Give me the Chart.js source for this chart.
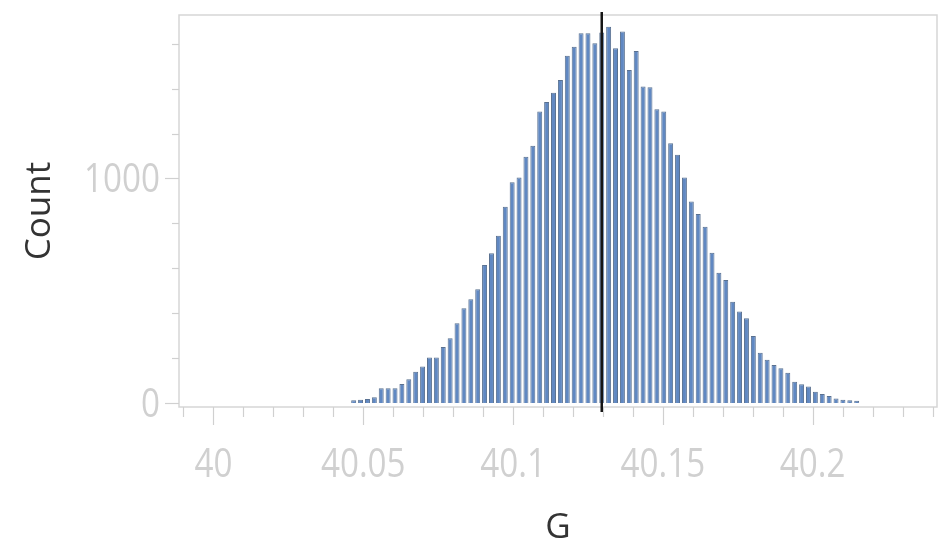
<!DOCTYPE html>
<html>
<head>
<meta charset="utf-8">
<script src="https://cdn.jsdelivr.net/npm/chart.js@4/dist/chart.umd.min.js"></script>
<style>
  html, body { margin: 0; padding: 0; background: #ffffff; }
  #wrap { width: 943px; height: 549px; }
</style>
</head>
<body>
<div id="wrap"><canvas id="chart" width="943" height="549"></canvas></div>
<script>
// Histogram of G: bin centres and counts
const binCenters = [
  40.0468, 40.0491, 40.0514, 40.0537, 40.0560, 40.0583, 40.0606, 40.0629, 40.0652, 40.0675,
  40.0698, 40.0721, 40.0744, 40.0767, 40.0790, 40.0813, 40.0836, 40.0859, 40.0882, 40.0905,
  40.0928, 40.0951, 40.0974, 40.0997, 40.1020, 40.1043, 40.1066, 40.1089, 40.1112, 40.1135,
  40.1158, 40.1181, 40.1204, 40.1227, 40.1250, 40.1273, 40.1296, 40.1319, 40.1342, 40.1365,
  40.1388, 40.1411, 40.1434, 40.1457, 40.1480, 40.1503, 40.1526, 40.1549, 40.1572, 40.1595,
  40.1618, 40.1641, 40.1664, 40.1687, 40.1710, 40.1733, 40.1756, 40.1779, 40.1802, 40.1825,
  40.1848, 40.1871, 40.1894, 40.1917, 40.1940, 40.1963, 40.1986, 40.2009, 40.2032, 40.2055,
  40.2078, 40.2101, 40.2124, 40.2147
];
const counts = [
  12, 14, 18, 25, 65, 65, 65, 85, 106, 139,
  162, 202, 202, 249, 288, 355, 422, 462, 506, 615,
  667, 745, 874, 983, 1004, 1097, 1146, 1298, 1341, 1382,
  1439, 1546, 1587, 1647, 1647, 1602, 1650, 1676, 1580, 1654,
  1483, 1568, 1409, 1406, 1308, 1298, 1157, 1105, 1004, 897,
  842, 785, 669, 580, 548, 451, 407, 377, 298, 224,
  192, 169, 155, 135, 95, 83, 73, 50, 40, 31,
  20, 14, 12, 10
];
// Mean of G, marked by a vertical line
const meanG = [40.1296];

// Axis ticks
const xLabelTicks = [40, 40.05, 40.1, 40.15, 40.2];
const xMinorTicks = [
  39.99, 40.00, 40.01, 40.02, 40.03, 40.04, 40.05, 40.06, 40.07, 40.08, 40.09,
  40.10, 40.11, 40.12, 40.13, 40.14, 40.15, 40.16, 40.17, 40.18, 40.19,
  40.20, 40.21, 40.22, 40.23, 40.24
];
const yLabelTicks = [0, 1000];
const yMinorTicks = [0, 200, 400, 600, 800, 1000, 1200, 1400, 1600];

const TICK_GREY = '#d0d0d0';
const FRAME_GREY = '#d6d6d6';
const TITLE_COLOR = '#333333';
const TICK_FONT = "40px 'Open Sans', sans-serif";
const TICK_SQUEEZE = 0.83;   // narrow tick lettering
const titleFont = { family: "'Open Sans', sans-serif", size: 35 };

const isLabelled = (list, v) => list.some(t => Math.abs(t - v) < 1e-9);
const fmt = v => String(+Number(v).toFixed(2));

// Frame around the plot, tick marks, tick labels and the mean line
const decor = {
  id: 'decor',
  beforeDatasetsDraw(chart) {
    const { ctx, chartArea: a, scales: { x, y } } = chart;
    ctx.save();
    ctx.strokeStyle = FRAME_GREY;
    ctx.lineWidth = 1.5;
    ctx.strokeRect(a.left, a.top, a.right - a.left, a.bottom - a.top);

    ctx.strokeStyle = TICK_GREY;
    ctx.lineWidth = 1.2;
    xMinorTicks.forEach(v => {
      const px = Math.round(x.getPixelForValue(v)) + 0.5;
      const len = isLabelled(xLabelTicks, v) ? 18 : 10;
      ctx.beginPath();
      ctx.moveTo(px, a.bottom);
      ctx.lineTo(px, a.bottom + len);
      ctx.stroke();
    });
    yMinorTicks.forEach(v => {
      const py = Math.round(y.getPixelForValue(v)) + 0.5;
      const len = isLabelled(yLabelTicks, v) ? 14 : 7;
      ctx.beginPath();
      ctx.moveTo(a.left, py);
      ctx.lineTo(a.left - len, py);
      ctx.stroke();
    });

    ctx.fillStyle = TICK_GREY;
    ctx.font = TICK_FONT;
    ctx.textBaseline = 'alphabetic';
    xLabelTicks.forEach(v => {
      ctx.save();
      ctx.translate(x.getPixelForValue(v), a.bottom + 70);
      ctx.scale(TICK_SQUEEZE, 1);
      ctx.textAlign = 'center';
      ctx.fillText(fmt(v), 0, 0);
      ctx.restore();
    });
    yLabelTicks.forEach(v => {
      ctx.save();
      ctx.translate(a.left - 19, y.getPixelForValue(v) + 14);
      ctx.scale(TICK_SQUEEZE, 1);
      ctx.textAlign = 'right';
      ctx.fillText(fmt(v), 0, 0);
      ctx.restore();
    });
    ctx.restore();
  },
  afterDatasetsDraw(chart) {
    const { ctx, chartArea: a, scales: { x } } = chart;
    ctx.save();
    ctx.strokeStyle = '#151515';
    ctx.lineWidth = 2.5;
    meanG.forEach(m => {
      const px = x.getPixelForValue(m);
      ctx.beginPath();
      ctx.moveTo(px, a.top - 3);
      ctx.lineTo(px, a.bottom + 5);
      ctx.stroke();
    });
    ctx.restore();
  }
};

new Chart(document.getElementById('chart'), {
  type: 'bar',
  data: {
    datasets: [{
      data: binCenters.map((c, i) => ({ x: c, y: counts[i] })),
      backgroundColor: '#6088c2',
      borderColor: '#5a7190',
      borderWidth: 1,
      barPercentage: 0.72,
      categoryPercentage: 1
    }]
  },
  options: {
    responsive: false,
    animation: false,
    layout: { padding: { top: 15, right: 6, left: 0, bottom: 0 } },
    plugins: { legend: { display: false }, tooltip: { enabled: false } },
    scales: {
      x: {
        type: 'linear',
        min: 39.9885,
        max: 40.2415,
        offset: false,
        grid: { display: false },
        border: { display: false },
        ticks: { display: false },
        afterFit: s => { s.height = 142; s.paddingLeft = 0; s.paddingRight = 0; },
        title: {
          display: true,
          text: 'G',
          color: TITLE_COLOR,
          font: titleFont,
          padding: { top: 0, bottom: 0 }
        }
      },
      y: {
        type: 'linear',
        min: -18,
        max: 1728,
        grid: { display: false },
        border: { display: false },
        ticks: { display: false },
        afterFit: s => { s.width = 179; s.paddingTop = 0; s.paddingBottom = 0; },
        title: {
          display: true,
          text: 'Count',
          color: TITLE_COLOR,
          font: titleFont,
          padding: { top: 19, bottom: 0 }
        }
      }
    }
  },
  plugins: [decor]
});
</script>
</body>
</html>
